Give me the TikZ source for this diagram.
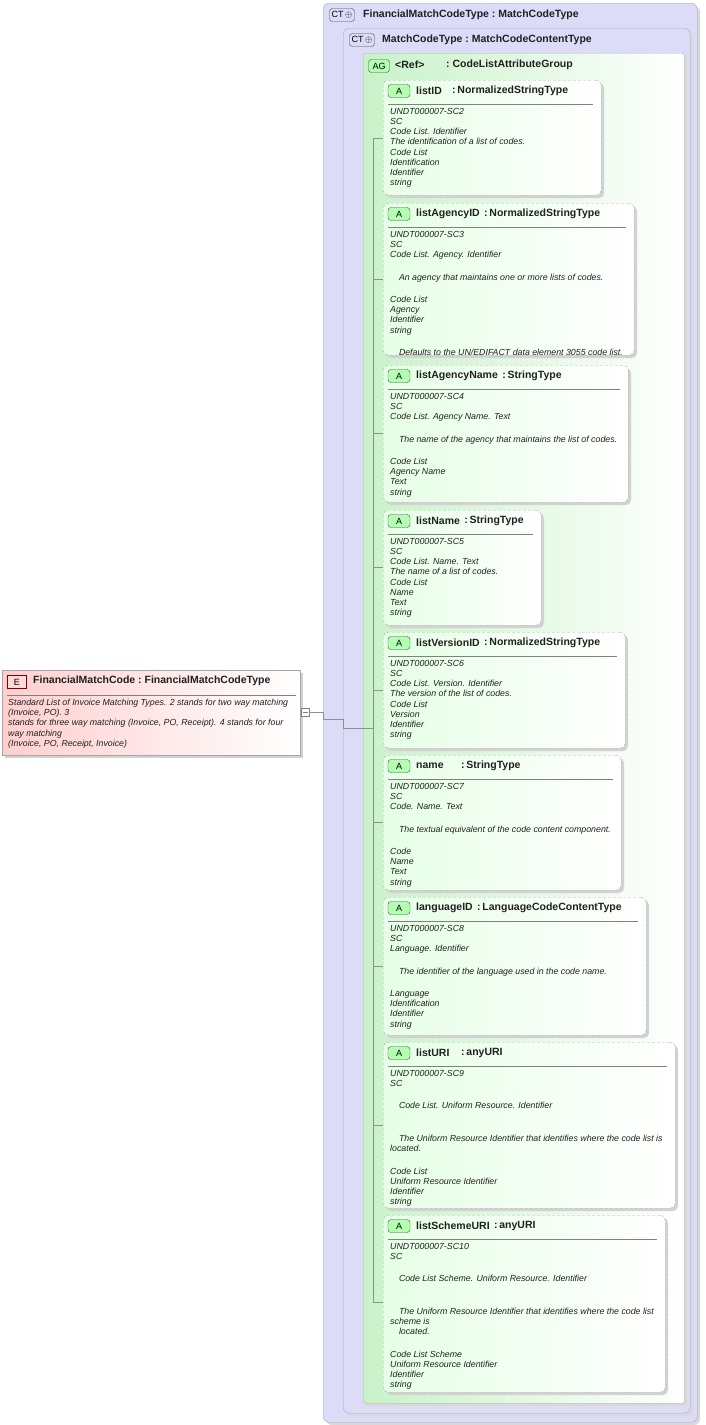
\documentclass[tikz,border=0pt]{standalone}
\usepackage{fontspec}
\setmainfont{Liberation Sans}
\usetikzlibrary{calc}
\definecolor{lav}{HTML}{DCDCF8}
\definecolor{lavb}{HTML}{A8A8C0}
\definecolor{grn}{HTML}{C8F2C8}
\definecolor{grnb}{HTML}{A0B8A0}
\definecolor{pnk}{HTML}{FFCFCF}
\definecolor{txt}{HTML}{202020}
\definecolor{ln}{HTML}{909090}
\tikzset{
  ctbox/.style={draw=lavb, fill=lav, rounded corners=6pt},
  agbox/.style={draw=grnb, left color=grn, right color=white, rounded corners=2pt},
  attbox/.style={draw=gray!60, dashed, dash pattern=on 3pt off 2pt, left color=green!10, right color=white, rounded corners=5pt},
  shadowbox/.style={fill=gray!35, rounded corners=5pt},
  badge/.style={draw=gray!60!black, rounded corners=3pt, inner sep=0pt, minimum height=13pt, font=\fontsize{9}{10}\selectfont},
  hdr/.style={anchor=west, inner sep=0pt, font=\fontsize{10.5}{12}\selectfont\bfseries, text=txt},
  body/.style={anchor=north west, inner sep=0pt, align=left, font=\fontsize{8.8}{10.2}\selectfont\itshape, text=txt},
  conn/.style={draw=ln, line width=0.6pt}
}
\newcommand\attbox[9]{%
 \fill[shadowbox] (386,#3+3) rectangle (#2+3,#4+3);
 \node[attbox, minimum width=#2-383, minimum height=#4-#3, anchor=north west, inner sep=0pt] (#1) at (383,#3) {};
 \node[badge, fill=green!30, minimum width=22pt] (#1b) at (399,#3+11) {A};
 \node[hdr] (#1t) at (416,#3+11) {#5};
 \path let \p1=(#1t.east) in coordinate (#1q) at ({max(\x1+4pt,#6pt)}, \y1);
 \node[hdr] (#1c) at (#1q) {:\,#7};
 \draw[gray] (388,#3+24) -- (#2-8,#3+24);
 \node[body] (#1x) at (390,#3+28) {#8};
 \coordinate (#1k) at (383,#9);
}
\begin{document}
\begin{tikzpicture}[x=1pt,y=-1pt]
\useasboundingbox (0,0) rectangle (705,1425);
\fill[white] (0,0) rectangle (705,1425);
\fill[gray!30, rounded corners=6pt] (326,6) rectangle (700,1425);
\node[ctbox, minimum width=374, minimum height=1419, anchor=north west, inner sep=0] (ct1) at (323,3) {};
\node[badge, fill=lav, minimum width=25pt] (ct1b) at (342,15) {CT\,$\oplus$};
\node[hdr] (ct1t) at (363,15) {FinancialMatchCodeType\ :\ MatchCodeType};
\fill[gray!30, rounded corners=6pt] (346,31) rectangle (693,1416);
\node[ctbox, minimum width=347, minimum height=1385, anchor=north west, inner sep=0] (ct2) at (343,28) {};
\node[badge, fill=lav, minimum width=25pt] (ct2b) at (362,40) {CT\,$\oplus$};
\node[hdr] (ct2t) at (382,40) {MatchCodeType\ :\ MatchCodeContentType};
\fill[gray!30] (366,56) rectangle (687,1406);
\node[agbox, minimum width=321, minimum height=1350, anchor=north west, inner sep=0] (ag) at (363,53) {};
\node[badge, fill=green!30, minimum width=21pt] (agb) at (379,66) {AG};
\node[hdr] (agt) at (395,65) {<Ref>};
\node[hdr] (agc) at (446,65) {:\ CodeListAttributeGroup};
\fill[gray!35] (5,673) rectangle (303,758);
\node[draw=gray!70, left color=pnk, right color=white, minimum width=298, minimum height=85, anchor=north west, inner sep=0] (el) at (2,670) {};
\node[draw=red!50!black, fill=pnk!80, inner sep=0, minimum width=19pt, minimum height=13pt, font=\fontsize{9}{10}\selectfont] (eb) at (17,682) {E};
\node[hdr] (et) at (33,681) {FinancialMatchCode\ :\ FinancialMatchCodeType};
\draw[gray] (7,695) -- (296,695);
\node[body] (ex) at (8,699) {Standard List of Invoice Matching Types. 2 stands for two way matching\\(Invoice, PO). 3\\stands for three way matching (Invoice, PO, Receipt). 4 stands for four\\way matching\\(Invoice, PO, Receipt, Invoice)};
\node[draw=gray, fill=white, minimum size=8pt, inner sep=0] (sq) at (305,712) {};
\draw[gray] ($(sq)+(-2.5,0)$) -- ($(sq)+(2.5,0)$);
\attbox{a1}{601}{80}{195}{listID}{452}{NormalizedStringType}{UNDT000007-SC2\\SC\\Code List. Identifier\\The identification of a list of codes.\\Code List\\Identification\\Identifier\\string}{138}
\attbox{a2}{634}{203}{355}{listAgencyID}{472}{NormalizedStringType}{UNDT000007-SC3\\SC\\Code List. Agency. Identifier\\[2pt]\\\quad An agency that maintains one or more lists of codes.\\[2pt]\\Code List\\Agency\\Identifier\\string\\[2pt]\\\quad Defaults to the UN/EDIFACT data element 3055 code list.}{279}
\attbox{a3}{628}{365}{502}{listAgencyName}{474}{StringType}{UNDT000007-SC4\\SC\\Code List. Agency Name. Text\\[2pt]\\\quad The name of the agency that maintains the list of codes.\\[2pt]\\Code List\\Agency Name\\Text\\string}{433}
\attbox{a4}{541}{510}{625}{listName}{461}{StringType}{UNDT000007-SC5\\SC\\Code List. Name. Text\\The name of a list of codes.\\Code List\\Name\\Text\\string}{567}
\attbox{a5}{625}{632}{748}{listVersionID}{472}{NormalizedStringType}{UNDT000007-SC6\\SC\\Code List. Version. Identifier\\The version of the list of codes.\\Code List\\Version\\Identifier\\string}{690}
\attbox{a6}{621}{755}{890}{name}{461}{StringType}{UNDT000007-SC7\\SC\\Code. Name. Text\\[2pt]\\\quad The textual equivalent of the code content component.\\[2pt]\\Code\\Name\\Text\\string}{822}
\attbox{a7}{646}{897}{1035}{languageID}{472}{LanguageCodeContentType}{UNDT000007-SC8\\SC\\Language. Identifier\\[2pt]\\\quad The identifier of the language used in the code name.\\[2pt]\\Language\\Identification\\Identifier\\string}{966}
\attbox{a8}{675}{1042}{1208}{listURI}{461}{anyURI}{UNDT000007-SC9\\SC\\[2pt]\\\quad Code List. Uniform Resource. Identifier\\[2pt]\\\\\quad The Uniform Resource Identifier that identifies where the code list is\\located.\\[2pt]\\Code List\\Uniform Resource Identifier\\Identifier\\string}{1125}
\attbox{a9}{665}{1215}{1392}{listSchemeURI}{472}{anyURI}{UNDT000007-SC10\\SC\\[2pt]\\\quad Code List Scheme. Uniform Resource. Identifier\\[2pt]\\\\\quad The Uniform Resource Identifier that identifies where the code list\\scheme is\\\quad located.\\[2pt]\\Code List Scheme\\Uniform Resource Identifier\\Identifier\\string}{1302}
\coordinate (v1) at (323,719);
\coordinate (v2) at (343,719);
\coordinate (v3) at (343,728);
\coordinate (vt) at (373,138);
\coordinate (vb) at (373,1302);
\draw[conn] (sq.east) -- (sq.east -| ct1.west) -- (v1) -- (v2) -- (v3) -- (v3 -| vt);
\draw[conn] (vt) -- (vb);
\foreach \k in {a1k,a2k,a3k,a4k,a5k,a6k,a7k,a8k,a9k}{
  \draw[conn] (\k -| vt) -- (\k);
}
\end{tikzpicture}
\end{document}
